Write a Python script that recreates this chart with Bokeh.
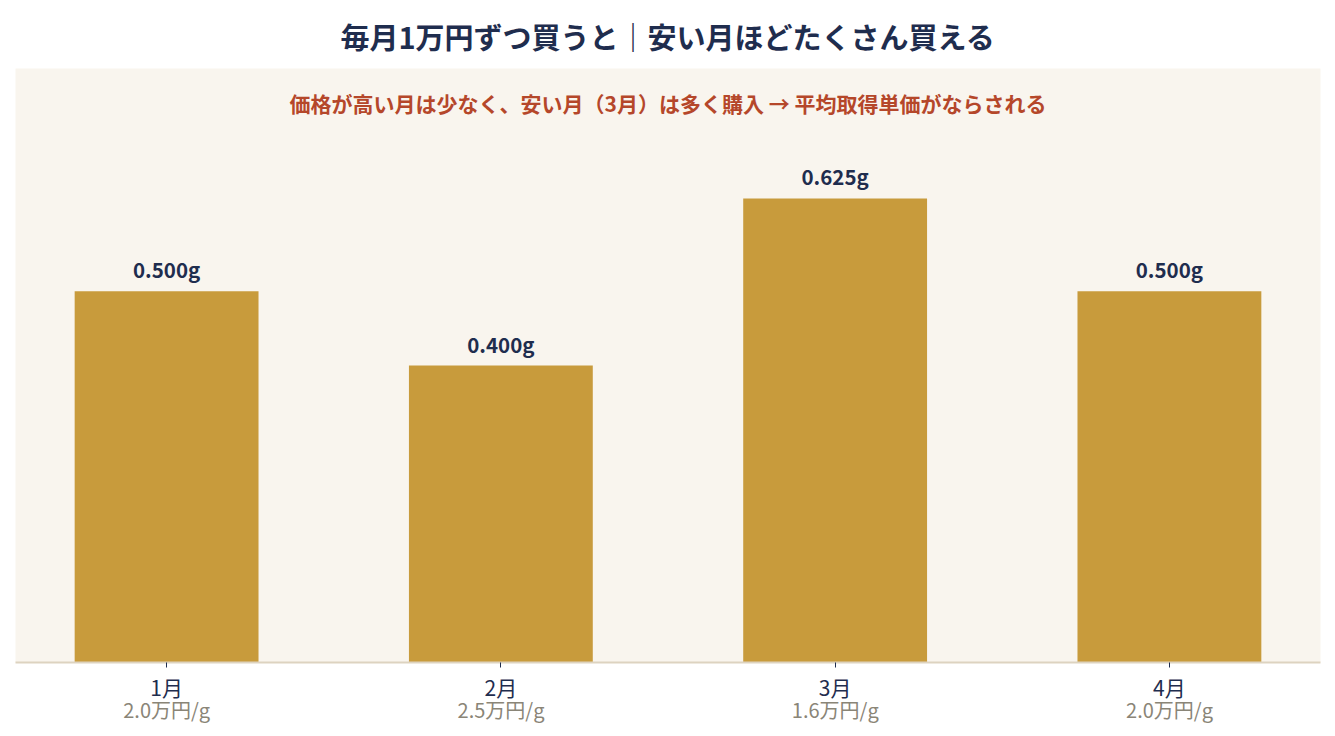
from bokeh.plotting import figure
from bokeh.models import ColumnDataSource, Range1d, FixedTicker, LinearAxis, Label
from bokeh.core.properties import value
from bokeh.embed import file_html
from bokeh.resources import INLINE

months = ["1月", "2月", "3月", "4月"]
prices = ["2.0万円/g", "2.5万円/g", "1.6万円/g", "2.0万円/g"]
grams = [0.500, 0.400, 0.625, 0.500]
title = "毎月1万円ずつ買うと｜安い月ほどたくさん買える"
note = "価格が高い月は少なく、安い月（3月）は多く購入 → 平均取得単価がならされる"

FONT = "Noto Sans CJK JP"
NAVY = "#1f2d4e"
GOLD = "#c89b3c"

xs = [i + 0.5 for i in range(len(months))]
src = ColumnDataSource(dict(x=xs, g=grams, lab=[f"{v:.3f}g" for v in grams]))

p = figure(width=1335, height=736, output_backend="svg", toolbar_location=None,
           x_range=Range1d(0.048, 3.952), y_range=Range1d(0, 0.8),
           min_border_left=15, min_border_right=15, min_border_top=8, min_border_bottom=74)
p.title.text = title
p.title.align = "center"
p.title.text_font = FONT
p.title.text_font_size = "29px"
p.title.text_color = NAVY
p.title.text_font_style = "bold"
p.title.standoff = 24
p.background_fill_color = "#f9f5ee"
p.border_fill_color = "white"
p.outline_line_color = None
p.grid.visible = False
p.yaxis.visible = False
p.xaxis.visible = False

p.vbar(x="x", top="g", width=0.55, bottom=0, source=src, fill_color=GOLD, line_color=None)
p.text(x="x", y="g", text="lab", source=src, text_align="center", text_baseline="bottom",
       y_offset=-7, text_font=value(FONT), text_font_size="20.5px",
       text_font_style="bold", text_color=NAVY)

p.add_layout(Label(x=2.0, y=0.754, text=note,
                   text_align="center", text_baseline="middle", text_font=FONT,
                   text_font_size="21px", text_font_style="bold", text_color="#b5472a"))

ax1 = LinearAxis(ticker=FixedTicker(ticks=xs),
                 major_label_overrides={x: m for x, m in zip(xs, months)})
ax1.axis_line_color = "#ddd3c0"
ax1.axis_line_width = 2
ax1.major_tick_line_color = NAVY
ax1.major_tick_in = 0
ax1.major_tick_out = 5
ax1.minor_tick_line_color = None
ax1.major_label_text_font = FONT
ax1.major_label_text_font_size = "21px"
ax1.major_label_text_color = NAVY
ax1.major_label_standoff = 4
p.add_layout(ax1, "below")

ax2 = LinearAxis(ticker=FixedTicker(ticks=xs),
                 major_label_overrides={x: s for x, s in zip(xs, prices)})
ax2.axis_line_color = None
ax2.major_tick_line_color = None
ax2.major_tick_out = 0
ax2.major_tick_in = 0
ax2.minor_tick_line_color = None
ax2.major_label_text_font = FONT
ax2.major_label_text_font_size = "20px"
ax2.major_label_text_color = "#8a8577"
ax2.major_label_standoff = -10
p.add_layout(ax2, "below")

open("out.html", "w").write(file_html(p, INLINE))
